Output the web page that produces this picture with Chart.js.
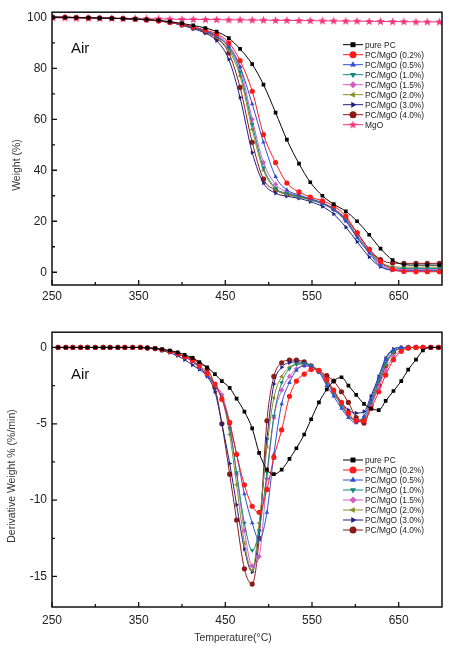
<!DOCTYPE html>
<html>
<head>
<meta charset="utf-8">
<script src="https://cdn.jsdelivr.net/npm/chart.js@4.4.1/dist/chart.umd.min.js"></script>
<style>
body{margin:0;background:#fff;}
#wrap{position:relative;width:451px;height:652px;}
canvas{position:absolute;left:0;}
#tga{top:0;}
#dtg{top:320px;}
</style>
</head>
<body>
<div id="wrap">
<canvas id="tga" width="451" height="320"></canvas>
<canvas id="dtg" width="451" height="332"></canvas>
</div>
<script>
// ---- TGA (weight %) ----
let tgaTemp=[251,265,278,292,305,319,332,346,359,373,386,400,413,427,440,454,467,481,494,508,521,535,548,562,575,589,602,616,629,643,656,670,683,697];
let tgaPurePC=[100,100,99.9,99.8,99.7,99.6,99.5,99.3,99.1,98.8,98.3,97.6,96.8,95.8,94.4,91.8,87.6,81.6,73.6,62.6,52,42.6,35.3,30,26.7,23.9,20,14.7,9.3,4.8,3,2.8,2.8,2.8];
let tga02=[100,100,99.9,99.8,99.7,99.6,99.5,99.3,99,98.6,98,97.2,96.2,95,93.5,90,83,71,54,43,35,31.5,29.5,28,26,22,15.5,9,4.2,1.2,0.3,0.2,0.2,0.2];
let tga05=[100,100,99.9,99.8,99.7,99.6,99.5,99.3,99,98.6,98,97.1,96,94.6,92.5,88.5,80.5,66,51,37.5,32.3,30.3,28.8,27,24.5,20,13.5,7.5,2.5,0.8,0.5,0.5,0.5,0.5];
let tga10=[100,100,99.9,99.8,99.7,99.6,99.5,99.3,99,98.6,98,97.2,96,94.5,92.6,88,78.5,58,41,33,31,29.8,28.6,27,24.5,20.5,14,8,3.5,1.8,1.5,1.5,1.5,1.5];
let tga15=[100,100,99.9,99.8,99.7,99.6,99.5,99.3,99,98.6,98,97.3,96.2,94.8,93,89,80.5,60,43,34.5,31.5,30,28.8,27.2,24.8,20.5,14.5,8.2,3.2,1.2,1,1,1,1];
let tga20=[100,100,99.9,99.8,99.7,99.6,99.5,99.3,99,98.6,98,97.2,96,94.5,92.2,87,77,56,40,32.5,30.5,29.5,28.3,26.8,24.5,20.5,14.5,8.5,4,2.2,2,2,2,2];
let tga30=[100,100,99.9,99.8,99.7,99.6,99.5,99.3,99,98.6,98,96.9,95.5,93.8,90.8,83.5,68.5,47,35,31,29.8,29,27.7,25.8,22.8,17.7,12,6,2.2,0.8,0.8,0.8,0.8,0.8];
let tga40=[100,100,99.9,99.8,99.7,99.6,99.5,99.3,99,98.6,98,97,95.8,94.2,91.8,86,72.5,51,36.5,32.3,30.5,29.6,28.8,27.2,25,21,15.5,9,5,3.6,3.5,3.5,3.5,3.5];
let tgaMgO=[99.8,99.8,99.7,99.7,99.6,99.6,99.5,99.5,99.4,99.4,99.3,99.2,99.2,99.1,99.1,99,99,98.9,98.9,98.8,98.8,98.7,98.7,98.6,98.6,98.5,98.5,98.4,98.4,98.3,98.3,98.2,98.2,98.2];

// ---- DTG (derivative weight) ----
let dtgTemp=[257,266,274,283,291,300,309,317,326,334,343,352,360,369,377,386,395,403,412,420,429,438,446,455,463,472,481,489,498,506,515,524,532,541,549,558,567,575,584,592,601,610,618,627,635,644,653,661,670,678,687,696];
let dtgPurePC=[0,0,0,0,0,0,0,0,0,0,0,0,-0.03,-0.06,-0.12,-0.2,-0.32,-0.48,-0.68,-0.95,-1.3,-1.75,-2.2,-2.65,-3.35,-4.2,-5.3,-6.9,-8.0,-8.3,-8.0,-7.3,-6.6,-5.7,-4.7,-3.6,-2.75,-2.2,-1.95,-2.5,-3.1,-3.7,-4.0,-4.1,-3.5,-2.85,-2.2,-1.45,-0.8,-0.2,0,0];
let dtg02=[0,0,0,0,0,0,0,0,0,0,0,0,-0.03,-0.07,-0.15,-0.25,-0.4,-0.6,-0.85,-1.2,-1.7,-2.4,-3.4,-4.9,-7.0,-9.0,-10.4,-10.8,-9.3,-7.2,-5.4,-3.2,-2.2,-1.75,-1.45,-1.5,-2.1,-2.8,-3.6,-4.3,-4.8,-4.8,-4.0,-2.9,-1.8,-0.8,-0.25,-0.05,0,0,0,0];
let dtg05=[0,0,0,0,0,0,0,0,0,0,0,0,-0.03,-0.07,-0.15,-0.27,-0.42,-0.62,-0.9,-1.3,-1.85,-2.5,-3.3,-5.0,-7.0,-9.6,-11.5,-12.6,-10.8,-7.0,-3.7,-2.3,-1.5,-1.2,-1.25,-1.6,-2.5,-3.2,-4.0,-4.6,-4.95,-4.5,-3.4,-2.0,-0.8,-0.15,0,0,0,0,0,0];
let dtg10=[0,0,0,0,0,0,0,0,0,0,0,0,-0.03,-0.07,-0.15,-0.27,-0.42,-0.62,-0.9,-1.3,-1.8,-2.5,-3.3,-5.3,-8.2,-11.5,-13.3,-12.0,-8.2,-4.5,-2.3,-1.4,-1.1,-1.05,-1.2,-1.6,-2.3,-3.0,-3.8,-4.5,-4.75,-4.6,-3.6,-2.2,-1.0,-0.3,-0.05,0,0,0,0,0];
let dtg15=[0,0,0,0,0,0,0,0,0,0,0,0,-0.03,-0.07,-0.15,-0.27,-0.42,-0.62,-0.9,-1.3,-1.8,-2.4,-3.1,-5.0,-8.3,-12.0,-14.3,-13.7,-8.6,-4.6,-2.8,-1.9,-1.4,-1.2,-1.25,-1.6,-2.2,-3.0,-3.8,-4.4,-4.8,-4.7,-3.8,-2.6,-1.5,-0.6,-0.15,0,0,0,0,0];
let dtg20=[0,0,0,0,0,0,0,0,0,0,0,0,-0.03,-0.07,-0.15,-0.27,-0.42,-0.62,-0.9,-1.3,-1.8,-2.5,-3.3,-5.7,-9.0,-12.8,-14.6,-11.5,-6.5,-3.3,-1.9,-1.3,-1.1,-1.1,-1.2,-1.5,-2.1,-2.9,-3.7,-4.4,-4.85,-4.8,-3.7,-2.3,-1.1,-0.3,-0.05,0,0,0,0,0];
let dtg30=[0,0,0,0,0,0,0,0,0,0,0,0,-0.05,-0.1,-0.2,-0.35,-0.55,-0.8,-1.15,-1.45,-1.9,-2.9,-5.0,-7.6,-10.3,-13.2,-14.7,-12.0,-6.0,-2.4,-1.3,-1.0,-0.95,-1.0,-1.2,-1.6,-2.2,-2.9,-3.6,-4.1,-4.3,-4.2,-3.2,-1.9,-0.7,-0.1,0,0,0,0,0,0];
let dtg40=[0,0,0,0,0,0,0,0,0,0,0,0,-0.03,-0.07,-0.15,-0.25,-0.42,-0.6,-0.72,-1.05,-1.4,-2.6,-5.0,-8.3,-11.3,-14.5,-15.5,-12.5,-4.8,-1.9,-1.0,-0.83,-0.82,-0.95,-1.2,-1.55,-1.85,-2.2,-2.9,-3.6,-4.6,-4.95,-3.8,-2.5,-1.2,-0.3,-0.05,0,0,0,0,0];

// ---- ticks ----
let xTicks=[250,350,450,550,650];
let xMinor=[300,400,500,600];
let tgaYTicks=[0,20,40,60,80,100];
let tgaYMinor=[10,30,50,70,90];
let dtgYTicks=[0,-5,-10,-15];
let dtgYMinor=[-2.5,-7.5,-12.5];

let FONT="'Liberation Sans', Arial, sans-serif";
Chart.defaults.font.family=FONT;

window.onload=function(){
    initTga();
    initDtg();
}

function starImage(color){
    let c=document.createElement("canvas");
    c.width=9;c.height=9;
    let g=c.getContext("2d");
    g.fillStyle=color;
    g.beginPath();
    for(let i=0;i<10;i++){
        let r=i%2===0?4.5:1.9;
        let a=-Math.PI/2+i*Math.PI/5;
        g.lineTo(4.5+r*Math.cos(a),4.7+r*Math.sin(a));
    }
    g.closePath();
    g.fill();
    return c;
}

function makeSet(label,xs,ys,color,style,rot){
    return {
        label:label,
        data:xs.map((t,i)=>({x:t,y:ys[i]})),
        borderColor:color,
        backgroundColor:color,
        pointStyle:style,
        pointRotation:rot||0,
        rotation:rot||0
    };
}

let framePlugin={
    id:"frame",
    afterDraw(chart,args,opts){
        let ctx=chart.ctx,a=chart.chartArea,sx=chart.scales.x,sy=chart.scales.y;
        ctx.save();

        ctx.strokeStyle="#111";
        ctx.lineWidth=1.5;
        ctx.strokeRect(a.left,a.top,a.right-a.left,a.bottom-a.top);

        // inward ticks
        ctx.lineWidth=1.3;
        ctx.beginPath();
        xTicks.forEach(v=>{let p=sx.getPixelForValue(v);ctx.moveTo(p,a.bottom);ctx.lineTo(p,a.bottom-5);});
        xMinor.forEach(v=>{let p=sx.getPixelForValue(v);ctx.moveTo(p,a.bottom);ctx.lineTo(p,a.bottom-3);});
        opts.yMajor.forEach(v=>{let p=sy.getPixelForValue(v);ctx.moveTo(a.left,p);ctx.lineTo(a.left+5,p);});
        opts.yMinor.forEach(v=>{let p=sy.getPixelForValue(v);ctx.moveTo(a.left,p);ctx.lineTo(a.left+3,p);});
        ctx.stroke();

        ctx.fillStyle="#111";
        ctx.font="15px "+FONT;
        ctx.textBaseline="middle";
        ctx.textAlign="left";
        ctx.fillText("Air",71,opts.airY);

        // axis titles
        ctx.fillStyle="#333";
        ctx.font="10.5px "+FONT;
        ctx.save();
        ctx.translate(opts.yTitleX,opts.yTitleY);
        ctx.rotate(-Math.PI/2);
        ctx.textAlign="center";
        ctx.fillText(opts.yTitle,0,0);
        ctx.restore();
        if(opts.xTitle){
            ctx.textAlign="center";
            ctx.fillText(opts.xTitle,233,opts.xTitleY);
        }

        // legend
        chart.data.datasets.forEach((ds,i)=>{
            let ly=opts.legendY+i*10;
            ctx.strokeStyle=ds.borderColor;
            ctx.lineWidth=1;
            ctx.beginPath();
            ctx.moveTo(343,ly);
            ctx.lineTo(363,ly);
            ctx.stroke();
            ctx.fillStyle=ds.backgroundColor;
            if(Chart.helpers && Chart.helpers.drawPoint){
                Chart.helpers.drawPoint(ctx,{pointStyle:ds.pointStyle,rotation:ds.pointRotation,radius:3.5,borderWidth:0},353,ly);
            }else{
                ctx.beginPath();ctx.arc(353,ly,3.5,0,Math.PI*2);ctx.fill();
            }
            ctx.fillStyle="#222";
            ctx.font="8.4px "+FONT;
            ctx.textAlign="left";
            ctx.fillText(ds.label,365,ly+0.5);
        });

        ctx.restore();
    }
};

function baseOptions(yMin,yMax,yTicks,xH,xPad,frame){
    return {
        responsive:false,
        animation:false,
        devicePixelRatio:1,
        layout:{padding:{top:9,right:9,left:0,bottom:0}},
        elements:{
            line:{borderWidth:1,cubicInterpolationMode:"monotone"},
            point:{radius:2.6,borderWidth:0,hoverRadius:2.6}
        },
        plugins:{legend:{display:false},tooltip:{enabled:false},frame:frame},
        scales:{
            x:{
                type:"linear",min:250,max:700,
                grid:{display:false,drawTicks:false},
                border:{display:false},
                ticks:{padding:xPad,color:"#222",font:{size:12}},
                afterBuildTicks:s=>{s.ticks=xTicks.map(v=>({value:v}));},
                afterFit:s=>{s.height=xH;}
            },
            y:{
                min:yMin,max:yMax,
                grid:{display:false,drawTicks:false},
                border:{display:false},
                ticks:{padding:5,color:"#222",font:{size:12}},
                afterBuildTicks:s=>{s.ticks=yTicks.map(v=>({value:v}));},
                afterFit:s=>{s.width=52;}
            }
        }
    };
}

function initTga(){
    let sets=[
        makeSet("pure PC",tgaTemp,tgaPurePC,"#000000","rect"),
        makeSet("PC/MgO (0.2%)",tgaTemp,tga02,"#ff1a1a","circle"),
        makeSet("PC/MgO (0.5%)",tgaTemp,tga05,"#2f4fd0","triangle"),
        makeSet("PC/MgO (1.0%)",tgaTemp,tga10,"#14867e","triangle",180),
        makeSet("PC/MgO (1.5%)",tgaTemp,tga15,"#d25bc8","rectRot"),
        makeSet("PC/MgO (2.0%)",tgaTemp,tga20,"#8c8c2c","triangle",270),
        makeSet("PC/MgO (3.0%)",tgaTemp,tga30,"#1f1f80","triangle",90),
        makeSet("PC/MgO (4.0%)",tgaTemp,tga40,"#8b1a1a","circle"),
        makeSet("MgO",tgaTemp,tgaMgO,"#f2327a",starImage("#f2327a"))
    ];
    new Chart(document.getElementById("tga"),{
        type:"line",
        data:{datasets:sets},
        options:baseOptions(-5,102,tgaYTicks,35,4,{
            yMajor:tgaYTicks,yMinor:tgaYMinor,airY:49,
            yTitle:"Weight (%)",yTitleX:17,yTitleY:165,
            legendY:44.7
        }),
        plugins:[framePlugin]
    });
}

function initDtg(){
    let sets=[
        makeSet("pure PC",dtgTemp,dtgPurePC,"#000000","rect"),
        makeSet("PC/MgO (0.2%)",dtgTemp,dtg02,"#ff1a1a","circle"),
        makeSet("PC/MgO (0.5%)",dtgTemp,dtg05,"#2f4fd0","triangle"),
        makeSet("PC/MgO (1.0%)",dtgTemp,dtg10,"#14867e","triangle",180),
        makeSet("PC/MgO (1.5%)",dtgTemp,dtg15,"#d25bc8","rectRot"),
        makeSet("PC/MgO (2.0%)",dtgTemp,dtg20,"#8c8c2c","triangle",270),
        makeSet("PC/MgO (3.0%)",dtgTemp,dtg30,"#1f1f80","triangle",90),
        makeSet("PC/MgO (4.0%)",dtgTemp,dtg40,"#8b1a1a","circle")
    ];
    new Chart(document.getElementById("dtg"),{
        type:"line",
        data:{datasets:sets},
        options:baseOptions(-17,1,dtgYTicks,45,6,{
            yMajor:dtgYTicks,yMinor:dtgYMinor,airY:55,
            yTitle:"Derivative Weight % (%/min)",yTitleX:12.5,yTitleY:156,
            xTitle:"Temperature(\u00B0C)",xTitleY:318,
            legendY:140
        }),
        plugins:[framePlugin]
    });
}
</script>
</body>
</html>
